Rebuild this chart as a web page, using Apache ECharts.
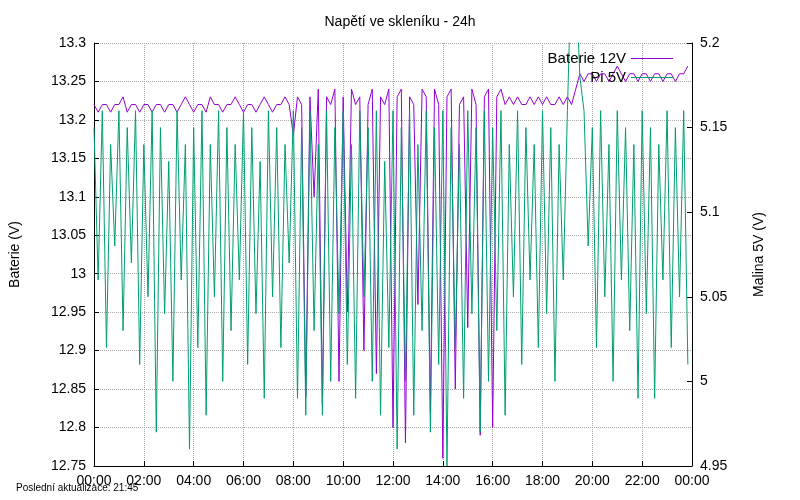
<!DOCTYPE html>
<html><head><meta charset="utf-8">
<script src="https://cdn.jsdelivr.net/npm/echarts@6/dist/echarts.min.js"></script>
<style>html,body{margin:0;background:#fff}#c{width:800px;height:500px}</style>
</head><body><div id="c"></div>
<script>
const xTicks=['00:00','02:00','04:00','06:00','08:00','10:00','12:00','14:00','16:00','18:00','20:00','22:00','00:00'];
const pi5v=[5.15,5.06,5.16,5.02,5.14,5.08,5.16,5.03,5.15,5.07,5.16,5.01,
5.14,5.05,5.16,4.97,5.15,5.04,5.13,5.00,5.16,5.06,5.14,4.96,
5.15,5.02,5.16,4.98,5.14,5.05,5.16,5.00,5.15,5.03,5.14,5.06,
5.16,5.01,5.15,5.04,5.13,4.99,5.16,5.05,5.15,5.02,5.14,5.07,
5.16,4.99,5.15,4.98,5.16,5.03,5.14,4.98,5.16,5.00,5.15,5.04,
5.16,5.01,5.14,4.99,5.16,5.05,5.15,5.00,5.16,4.98,5.13,5.02,
5.16,4.96,5.15,5.00,5.16,4.98,5.14,5.03,5.16,4.97,5.15,5.01,
5.16,4.95,5.15,5.02,5.14,4.99,5.16,5.04,5.15,4.97,5.16,5.00,
5.15,5.03,5.16,4.98,5.14,5.05,5.16,5.01,5.15,5.06,5.14,5.02,
5.16,5.04,5.15,5.00,5.14,5.06,5.16,5.25,5.24,5.18,5.16,5.08,
5.15,5.02,5.16,5.05,5.14,5.00,5.16,5.06,5.15,5.03,5.14,4.99,
5.16,5.04,5.15,4.99,5.14,5.06,5.16,5.02,5.15,5.05,5.16,5.01];
const bat12v=[13.22,13.21,13.22,13.22,13.21,13.22,13.22,13.23,13.21,13.22,13.22,13.21,
13.22,13.22,13.21,13.22,13.22,13.21,13.22,13.22,13.21,13.22,13.23,13.22,
13.21,13.22,13.22,13.21,13.23,13.22,13.22,13.21,13.22,13.22,13.23,13.22,
13.21,13.22,13.22,13.21,13.22,13.23,13.22,13.21,13.22,13.22,13.23,13.22,
13.18,13.23,13.22,12.84,13.23,13.10,13.24,12.83,13.23,13.22,13.24,12.86,
13.23,12.95,13.24,13.22,13.23,12.90,13.22,13.24,12.87,13.23,13.22,13.24,
12.80,13.23,13.24,12.78,13.23,13.22,12.96,13.24,13.23,12.82,13.24,13.22,
12.76,13.23,13.24,12.85,13.22,13.23,12.93,13.24,13.22,12.79,13.23,13.24,
12.80,13.23,13.24,13.22,13.23,13.22,13.23,13.22,13.22,13.23,13.22,13.23,
13.22,13.23,13.22,13.22,13.23,13.22,13.23,13.22,13.24,13.26,13.25,13.26,
13.26,13.25,13.26,13.26,13.25,13.26,13.27,13.26,13.25,13.26,13.26,13.25,
13.26,13.26,13.25,13.26,13.26,13.25,13.26,13.26,13.25,13.26,13.26,13.27];
const ch=echarts.init(document.getElementById('c'));
const ax={fontFamily:'Liberation Sans',fontSize:14,color:'#000'};
ch.setOption({
 animation:false,
 title:{text:'Napětí ve skleníku - 24h',left:'center',top:10,textStyle:{fontFamily:'Liberation Sans',fontSize:14,fontWeight:'normal',color:'#000'}},
 graphic:[{type:'text',left:16,top:483,style:{text:'Poslední aktualizace: 21:45',font:'10px Liberation Sans',fill:'#000'}}],
 legend:{right:122,top:46,orient:'vertical',itemWidth:42,itemHeight:1,icon:'rect',itemGap:4,align:'right',
   textStyle:{fontFamily:'Liberation Sans',fontSize:15,color:'#000'},data:['Baterie 12V','Pi 5V']},
 grid:{left:92,right:108,top:43,bottom:34},
 xAxis:{type:'value',min:0,max:24,interval:2,axisLine:{lineStyle:{color:'#000'}},axisTick:{inside:true,lineStyle:{color:'#000'}},
   axisLabel:Object.assign({formatter:v=>xTicks[v/2]},ax),splitLine:{lineStyle:{type:'dotted',color:'#aaa'}}},
 yAxis:[{type:'value',min:12.75,max:13.3,interval:0.05,name:'Baterie (V)',nameLocation:'middle',nameGap:72,nameTextStyle:ax,
   axisLine:{show:true,lineStyle:{color:'#000'}},axisTick:{inside:true},axisLabel:Object.assign({formatter:v=>String(+v.toFixed(2))},ax),
   splitLine:{lineStyle:{type:'dotted',color:'#aaa'}}},
  {type:'value',min:4.95,max:5.2,interval:0.05,name:'Malina 5V (V)',nameLocation:'middle',nameGap:60,nameTextStyle:ax,
   axisLine:{show:true,lineStyle:{color:'#000'}},axisTick:{inside:true},axisLabel:Object.assign({formatter:v=>String(+v.toFixed(2))},ax),splitLine:{show:false}}],
 series:[
  {name:'Baterie 12V',type:'line',yAxisIndex:0,symbol:'none',clip:true,lineStyle:{width:1,color:'#9400d3'},itemStyle:{color:'#9400d3'},
   data:bat12v.map((v,i)=>[i/6,v])},
  {name:'Pi 5V',type:'line',yAxisIndex:1,symbol:'none',clip:true,lineStyle:{width:1,color:'#009e73'},itemStyle:{color:'#009e73'},
   data:pi5v.map((v,i)=>[i/6,v])}
 ]
});
</script></body></html>
